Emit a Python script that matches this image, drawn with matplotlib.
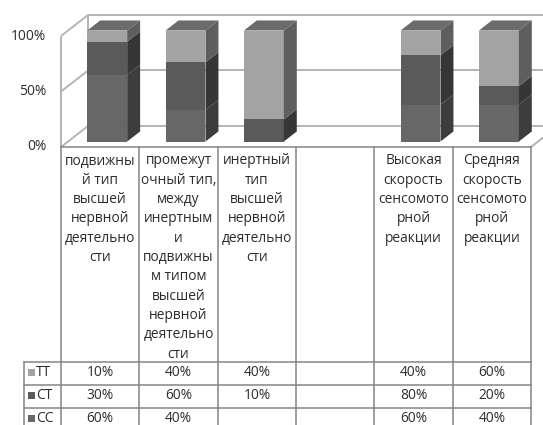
import numpy as np
import matplotlib.pyplot as plt
from matplotlib.patches import Polygon

# Data: 100% stacked columns with a data table underneath
categories = [
    "подвижны\nй тип\nвысшей\nнервной\nдеятельно\nсти",
    "промежут\nочный тип,\nмежду\nинертным\nи\nподвижны\nм типом\nвысшей\nнервной\nдеятельно\nсти",
    "инертный\nтип\nвысшей\nнервной\nдеятельно\nсти",
    "",
    "Высокая\nскорость\nсенсомото\nрной\nреакции",
    "Средняя\nскорость\nсенсомото\nрной\nреакции",
]
series_names = ["CC", "CT", "TT"]            # bottom -> top
cc_vals = [60, 40, None, None, 60, 40]
ct_vals = [30, 60, 10, None, 80, 20]
tt_vals = [10, 40, 40, None, 40, 60]

front_cols = {"CC": "#676767", "CT": "#5a5a5a", "TT": "#a3a3a3"}
side_cols = {"CC": "#3d3d3d", "CT": "#363636", "TT": "#5e5e5e"}
top_col = "#6b6b6b"
wall_col = "#b4b4b4"
grid_col = "#858585"
text_col = "#2c2c2c"

W, H = 543, 425
fig = plt.figure(figsize=(W / 100, H / 100), dpi=100)
plt.rcParams['font.family'] = ['Open Sans', 'DejaVu Sans']
fs = 9.9

# chart axes = front plane of the 3D box
x_left, x_right = 61, 531
y_zero, y_hundred = 147, 36
ax = fig.add_axes([x_left / W, (H - y_zero) / H, (x_right - x_left) / W, (y_zero - y_hundred) / H])
ax.set_xlim(-0.5, 5.5)
ax.set_ylim(0, 100)
ax.axis("off")

px_x = (x_right - x_left) / 6.0
px_y = (y_zero - y_hundred) / 100.0
DX = 27 / px_x      # full depth, in data units
DY = 21 / px_y


def P(x, y, t):
    return (x + t * DX, y + t * DY)


# walls
kw = dict(color=wall_col, lw=1.4, clip_on=False, solid_capstyle="butt")
for g in [0, 50, 100]:
    ax.plot(*zip(P(-0.5, g, 0), P(-0.5, g, 1)), **kw)
    ax.plot(*zip(P(-0.5, g, 1), P(5.5, g, 1)), **kw)
ax.plot(*zip(P(-0.5, 0, 0), P(-0.5, 100, 0)), **kw)
ax.plot(*zip(P(-0.5, 0, 1), P(-0.5, 100, 1)), **kw)
ax.plot(*zip(P(5.5, 0, 0), P(5.5, 0, 1)), **kw)

for lab, v in zip([0, 50, 100], ["0%", "50%", "100%"]):
    ax.text(-0.5 - 15 / px_x, lab, v, ha="right", va="center",
            fontsize=fs, color=text_col, clip_on=False)

# stacked 100% bars
vals = {"CC": cc_vals, "CT": ct_vals, "TT": tt_vals}
arr = {k: np.array([0 if v is None else v for v in vals[k]], float) for k in series_names}
total = sum(arr.values())
xs = np.arange(len(categories))
t0, t1 = 0.26, 0.74
w = 0.51
bottom = np.zeros(len(xs))
shares = {}
for name in series_names:
    share = np.where(total > 0, arr[name] / np.where(total > 0, total, 1) * 100, 0)
    shares[name] = (bottom.copy(), share)
    ax.bar(xs + t0 * DX, share, bottom=bottom + t0 * DY, width=w,
           color=front_cols[name], linewidth=0, clip_on=False, zorder=3)
    bottom = bottom + share

for i in xs:
    if total[i] == 0:
        continue
    xr = i + w / 2
    for name in series_names:
        b, s = shares[name]
        if s[i] == 0:
            continue
        y0, y1 = b[i], b[i] + s[i]
        side = [P(xr, y0, t0), P(xr, y0, t1), P(xr, y1, t1), P(xr, y1, t0)]
        ax.add_patch(Polygon(side, closed=True, fc=side_cols[name], ec="none",
                             clip_on=False, zorder=3))
    xl = i - w / 2
    top = [P(xl, 100, t0), P(xr, 100, t0), P(xr, 100, t1), P(xl, 100, t1)]
    ax.add_patch(Polygon(top, closed=True, fc=top_col, ec="none", clip_on=False, zorder=3))

# data table (pixel coordinates)
tab = fig.add_axes([0, 0, 1, 1], facecolor="none")
tab.set_xlim(0, W)
tab.set_ylim(H, 0)
tab.axis("off")
edges = x_left + px_x * np.arange(7)
row_lines = [362, 385, 408, 431]
lc = dict(color=grid_col, lw=1.1)
tab.plot([x_left, x_right], [y_zero, y_zero], **lc)
for e in edges:
    tab.plot([e, e], [y_zero, H], **lc)
tab.plot([24, 24], [row_lines[0], H], **lc)
for r in row_lines[:3]:
    tab.plot([24, x_right], [r, r], **lc)

for i, lab in enumerate(categories):
    cx = (edges[i] + edges[i + 1]) / 2
    for k, line in enumerate(lab.split("\n")):
        tab.text(cx, 161 + 19.3 * k, line, ha="center", va="center",
                 fontsize=fs, color=text_col)

rows = ["TT", "CT", "CC"]
for r, name in enumerate(rows):
    cy = (row_lines[r] + row_lines[r + 1]) / 2 - 1
    tab.add_patch(plt.Rectangle((27.5, cy - 3.5), 7, 7, fc=front_cols[name], ec="none"))
    tab.text(36, cy, name, ha="left", va="center", fontsize=fs, color=text_col)
    for i, v in enumerate(vals[name]):
        if v is None:
            continue
        cx = (edges[i] + edges[i + 1]) / 2
        tab.text(cx, cy, f"{v}%", ha="center", va="center", fontsize=fs, color=text_col)

fig.savefig("out.png", dpi=100)
